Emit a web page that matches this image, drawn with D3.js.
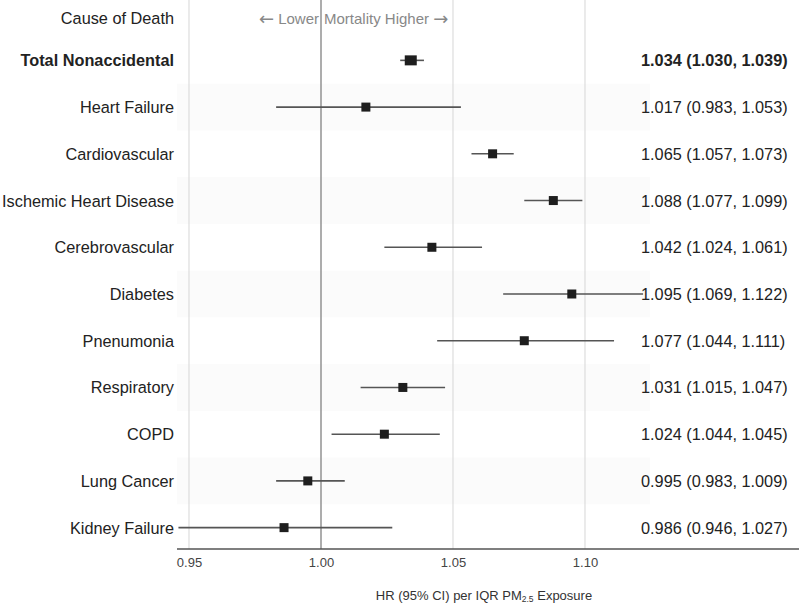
<!DOCTYPE html>
<html><head><meta charset="utf-8">
<script src="https://cdn.jsdelivr.net/npm/d3@7"></script>
<style>body{margin:0;background:#fff;} text{font-family:"Liberation Sans",Arial,Helvetica,sans-serif;}</style>
</head><body><svg id="c" width="799" height="608"></svg>
<script>
const causes = ["Total Nonaccidental","Heart Failure","Cardiovascular","Ischemic Heart Disease","Cerebrovascular","Diabetes","Pnenumonia","Respiratory","COPD","Lung Cancer","Kidney Failure"];
const hr    = [1.034,1.017,1.065,1.088,1.042,1.095,1.077,1.031,1.024,0.995,0.986];
const lower = [1.030,0.983,1.057,1.077,1.024,1.069,1.044,1.015,1.004,0.983,0.946];
const upper = [1.039,1.053,1.073,1.099,1.061,1.122,1.111,1.047,1.045,1.009,1.027];
const labels = ["1.034 (1.030, 1.039)","1.017 (0.983, 1.053)","1.065 (1.057, 1.073)","1.088 (1.077, 1.099)","1.042 (1.024, 1.061)","1.095 (1.069, 1.122)","1.077 (1.044, 1.111)","1.031 (1.015, 1.047)","1.024 (1.044, 1.045)","0.995 (0.983, 1.009)","0.986 (0.946, 1.027)"];
const tickVals = [0.95,1.00,1.05,1.10];

const svg = d3.select("#c");
const x = d3.scaleLinear().domain([0.95,1.10]).range([189,585]);
const y = d3.scaleBand().domain(causes).range([37,551]).paddingInner(0).paddingOuter(0);
const yc = c => y(c) + y.bandwidth()/2;

// row shading
svg.append("g").selectAll("rect").data(causes.filter((d,i)=>i%2===1)).join("rect")
  .attr("x",177).attr("width",473).attr("y",d=>y(d)).attr("height",y.bandwidth())
  .attr("fill","#fbfbfb");

// gridlines
svg.append("g").selectAll("line").data(tickVals).join("line")
  .attr("x1",d=>x(d)).attr("x2",d=>x(d)).attr("y1",0).attr("y2",549)
  .attr("stroke",d=>d===1?"#999":"#ddd").attr("stroke-width",d=>d===1?1.6:1.2);

// axis
const axis = d3.axisBottom(x).tickValues(tickVals).tickFormat(d3.format(".2f")).tickSize(0).tickPadding(9);
const ag = svg.append("g").attr("transform","translate(0,549)").call(axis);
ag.select(".domain").remove();
ag.selectAll("text").attr("font-size",13).attr("fill","#444").attr("font-family","Liberation Sans, Arial, sans-serif");
svg.append("line").attr("x1",177).attr("x2",799).attr("y1",549).attr("y2",549).attr("stroke","#555").attr("stroke-width",1.5);

// header
svg.append("text").attr("x",174).attr("y",18).attr("text-anchor","end").attr("dominant-baseline","central")
  .attr("font-size",16.3).attr("fill","#222").text("Cause of Death");
const hl = svg.append("text").attr("x",x(1.0)-2).attr("y",18).attr("text-anchor","end").attr("dominant-baseline","central")
  .attr("font-size",15).attr("fill","#888");
hl.append("tspan").attr("font-family","DejaVu Sans").attr("font-size",18).text("\u2190");
hl.append("tspan").text(" Lower");
const hh = svg.append("text").attr("x",x(1.0)+3).attr("y",18).attr("dominant-baseline","central")
  .attr("font-size",15).attr("fill","#888");
hh.append("tspan").text("Mortality Higher ");
hh.append("tspan").attr("font-family","DejaVu Sans").attr("font-size",18).text("\u2192");

// rows
const rows = svg.append("g").selectAll("g").data(causes).join("g");
rows.append("line").attr("x1",(d,i)=>x(lower[i])).attr("x2",(d,i)=>x(upper[i]))
  .attr("y1",d=>yc(d)).attr("y2",d=>yc(d)).attr("stroke","#555").attr("stroke-width",1.6);
rows.append("rect")
  .attr("x",(d,i)=>x(hr[i])-(i===0?6:4.5)).attr("y",(d,i)=>yc(d)-(i===0?5:4.5))
  .attr("width",(d,i)=>i===0?12:9).attr("height",(d,i)=>i===0?10:9).attr("fill","#1e1e1e");
rows.append("text").attr("x",174).attr("y",d=>yc(d)).attr("text-anchor","end").attr("dominant-baseline","central")
  .attr("font-size",16.3).attr("fill","#222").attr("font-weight",(d,i)=>i===0?"bold":"normal").text(d=>d);
rows.append("text").attr("x",641).attr("y",d=>yc(d)).attr("dominant-baseline","central")
  .attr("font-size",16.3).attr("fill","#222").attr("font-weight",(d,i)=>i===0?"bold":"normal").text((d,i)=>labels[i]);

// axis title
const t = svg.append("text").attr("x",484).attr("y",600).attr("text-anchor","middle")
  .attr("font-size",13).attr("fill","#333");
t.append("tspan").text("HR (95% CI) per IQR PM");
t.append("tspan").attr("font-size",8.5).attr("dy",2).text("2.5");
t.append("tspan").attr("dy",-2).text(" Exposure");
</script></body></html>
